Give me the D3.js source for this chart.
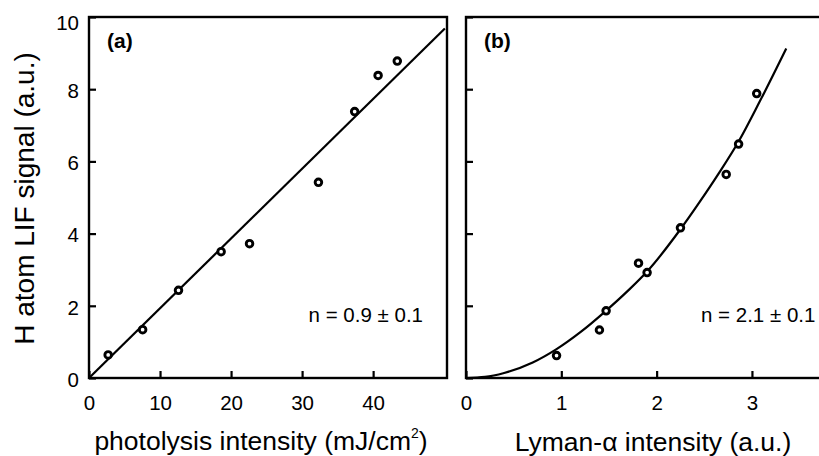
<!DOCTYPE html>
<html>
<head>
<meta charset="utf-8">
<script src="https://cdn.jsdelivr.net/npm/d3@7"></script>
<style>
  html, body { margin: 0; padding: 0; background: #fff; }
</style>
</head>
<body>
<svg id="chart" width="819" height="456"></svg>
<script>
const fontFamily = `"Liberation Sans", Arial, Helvetica, sans-serif`;

// panel (a): photolysis intensity vs signal
const photolysisX = [2.7, 7.55, 12.6, 18.6, 22.6, 32.3, 37.4, 40.7, 43.4];
const photolysisY = [0.64, 1.34, 2.43, 3.5, 3.72, 5.42, 7.38, 8.38, 8.78];
const photolysisFitX = [0, 50.1];
const photolysisFitY = [0, 9.68];
const photolysisTicks = [0, 10, 20, 30, 40];

// panel (b): Lyman-alpha intensity vs signal
const lymanX = [0.95, 1.4, 1.47, 1.81, 1.9, 2.25, 2.73, 2.86, 3.05];
const lymanY = [0.62, 1.33, 1.86, 3.18, 2.92, 4.16, 5.64, 6.48, 7.88];
const lymanFitX = [0, 0.2, 0.4, 0.7, 0.95, 1.2, 1.45, 1.7, 1.9, 2.25, 2.45, 2.65, 2.86, 3.08, 3.36];
const lymanFitY = [0, 0.03, 0.14, 0.43, 0.8, 1.27, 1.82, 2.42, 2.95, 4.12, 4.87, 5.66, 6.55, 7.65, 9.13];
const lymanTicks = [0, 1, 2, 3];

const signalTicks = [0, 2, 4, 6, 8, 10];

const plotTop = 17;
const plotBottom = 378;
const tickLen = 7;
const tickFont = 20.5;

const svg = d3.select("#chart")
  .attr("font-family", fontFamily);

const y = d3.scaleLinear().domain([0, 10]).range([plotBottom, plotTop]);

function zip(xs, ys) {
  return xs.map((d, i) => [d, ys[i]]);
}

/**
 * draws one framed panel with inward ticks, fit line and open markers
 */
function renderPanel(opts) {
  const { id, left, right, xMax, xTicks, points, fit, curve, showYLabels } = opts;
  const x = d3.scaleLinear().domain([0, xMax]).range([left, right]);

  const g = svg.append("g").attr("id", id);

  g.append("clipPath")
    .attr("id", `clip-${id}`)
    .append("rect")
    .attr("x", left)
    .attr("y", plotTop)
    .attr("width", right - left)
    .attr("height", plotBottom - plotTop);

  // x axis, ticks pointing in
  const xAxis = g.append("g")
    .attr("transform", `translate(0, ${plotBottom})`)
    .call(
      d3.axisBottom(x)
        .tickValues(xTicks)
        .tickSizeInner(-tickLen)
        .tickSizeOuter(0)
        .tickPadding(17.5)
        .tickFormat(d3.format("d")),
    );
  xAxis.select(".domain").remove();
  xAxis.selectAll("line").attr("stroke", "#000").attr("stroke-width", 2.2);
  xAxis.selectAll("text")
    .attr("font-size", tickFont)
    .attr("font-family", fontFamily)
    .attr("fill", "#000");

  const yAxis = g.append("g")
    .attr("transform", `translate(${left}, 0)`)
    .call(
      d3.axisLeft(y)
        .tickValues(signalTicks)
        .tickSizeInner(-tickLen)
        .tickSizeOuter(0)
        .tickPadding(10)
        .tickFormat(showYLabels ? d3.format("d") : () => ""),
    );
  yAxis.select(".domain").remove();
  yAxis.selectAll("line").attr("stroke", "#000").attr("stroke-width", 2.2);
  // top label sits a little lower than its tick in the original
  yAxis.selectAll("text")
    .attr("font-size", tickFont)
    .attr("font-family", fontFamily)
    .attr("dy", (d) => (d === 10 ? "0.6em" : "0.4em"))
    .attr("fill", "#000");

  // frame
  g.append("rect")
    .attr("x", left)
    .attr("y", plotTop)
    .attr("width", right - left)
    .attr("height", plotBottom - plotTop)
    .attr("fill", "none")
    .attr("stroke", "#000")
    .attr("stroke-width", 2.4);

  const line = d3.line()
    .x((d) => x(d[0]))
    .y((d) => y(d[1]))
    .curve(curve);

  g.append("path")
    .datum(fit)
    .attr("clip-path", `url(#clip-${id})`)
    .attr("d", line)
    .attr("fill", "none")
    .attr("stroke", "#000")
    .attr("stroke-width", 2.2);

  g.append("g")
    .selectAll("circle")
    .data(points)
    .enter()
    .append("circle")
    .attr("cx", (d) => x(d[0]))
    .attr("cy", (d) => y(d[1]))
    .attr("r", 3.3)
    .attr("fill", "#fff")
    .attr("stroke", "#000")
    .attr("stroke-width", 2.9);

  return g;
}

const panelA = renderPanel({
  id: "panel-a",
  left: 89,
  right: 447,
  xMax: 50.4,
  xTicks: photolysisTicks,
  points: zip(photolysisX, photolysisY),
  fit: zip(photolysisFitX, photolysisFitY),
  curve: d3.curveLinear,
  showYLabels: true,
});

const panelB = renderPanel({
  id: "panel-b",
  left: 466,
  right: 822,
  xMax: 3.735,
  xTicks: lymanTicks,
  points: zip(lymanX, lymanY),
  fit: zip(lymanFitX, lymanFitY),
  curve: d3.curveMonotoneX,
  showYLabels: false,
});

// panel letters
panelA.append("text")
  .attr("x", 107)
  .attr("y", 48)
  .attr("font-size", 21)
  .attr("font-weight", "bold")
  .text("(a)");

panelB.append("text")
  .attr("x", 484)
  .attr("y", 48)
  .attr("font-size", 21)
  .attr("font-weight", "bold")
  .text("(b)");

// exponents
panelA.append("text")
  .attr("x", 423)
  .attr("y", 322)
  .attr("text-anchor", "end")
  .attr("font-size", 20.5)
  .text("n = 0.9 \u00b1 0.1");

panelB.append("text")
  .attr("x", 701)
  .attr("y", 322)
  .attr("font-size", 20.5)
  .text("n = 2.1 \u00b1 0.1");

// axis titles
const xTitleA = svg.append("text")
  .attr("x", 261)
  .attr("y", 450)
  .attr("text-anchor", "middle")
  .attr("font-size", 26.5);
xTitleA.append("tspan").text("photolysis intensity (mJ/cm");
xTitleA.append("tspan")
  .attr("font-size", 14)
  .attr("dy", "-0.85em")
  .text("2");
xTitleA.append("tspan")
  .attr("dy", "0.45em")
  .text(")");

svg.append("text")
  .attr("x", 653)
  .attr("y", 451)
  .attr("text-anchor", "middle")
  .attr("font-size", 26.5)
  .text("Lyman-\u03b1 intensity (a.u.)");

svg.append("text")
  .attr("transform", `translate(34, ${(plotTop + plotBottom) / 2 + 1}) rotate(-90)`)
  .attr("text-anchor", "middle")
  .attr("font-size", 28)
  .text("H atom LIF signal (a.u.)");
</script>
</body>
</html>
